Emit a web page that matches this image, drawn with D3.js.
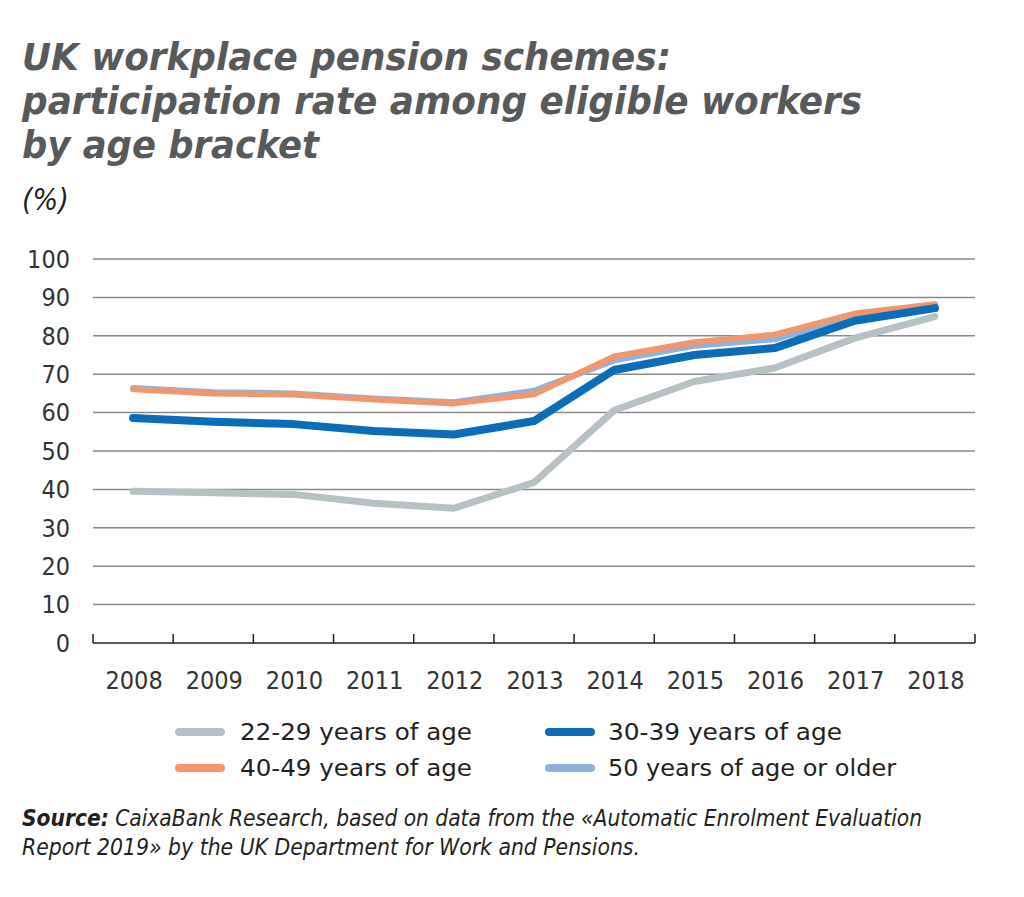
<!DOCTYPE html>
<html><head><meta charset="utf-8">
<script src="https://cdn.jsdelivr.net/npm/d3@7"></script>
<style>
body{margin:0;background:#fff;}
svg{display:block;}
</style></head>
<body>
<svg id="c" width="1024" height="897"></svg>
<script>
const years = [2008,2009,2010,2011,2012,2013,2014,2015,2016,2017,2018];
const yTicks = [0,10,20,30,40,50,60,70,80,90,100];
const seriesNames = ["22-29 years of age","30-39 years of age","40-49 years of age","50 years of age or older"];
const age22_29 = [39.5,39.1,38.7,36.4,35.1,41.8,60.6,68.1,71.6,79.4,85.0];
const age30_39 = [58.6,57.6,57.0,55.2,54.3,57.8,71.1,75.0,76.8,83.9,87.2];
const age40_49 = [66.1,65.0,64.7,63.4,62.4,64.8,74.6,78.3,80.3,85.8,88.2];
const age50plus = [66.4,65.3,65.0,63.7,62.7,65.7,73.6,77.4,79.1,85.2,87.9];

(function(){
const colors = {"22-29 years of age":"#b7c1c3","30-39 years of age":"#0b6db7","40-49 years of age":"#f0976e","50 years of age or older":"#8fb1dd"};
const widths = {"22-29 years of age":7,"30-39 years of age":8,"40-49 years of age":6,"50 years of age or older":6};
const dataMap = {"22-29 years of age":age22_29,"30-39 years of age":age30_39,"40-49 years of age":age40_49,"50 years of age or older":age50plus};
const drawOrder = ["22-29 years of age","50 years of age or older","40-49 years of age","30-39 years of age"];

const svg = d3.select("#c");
const cond = "'Liberation Sans Narrow','DejaVu Sans Condensed','Open Sans',sans-serif";

const titleLines = ["UK workplace pension schemes:","participation rate among eligible workers","by age bracket"];
const titleW = [649, 840, 297];
const titleY = [70, 114, 158];
titleLines.forEach((t,i)=>{
  svg.append("text").attr("x",22).attr("y",titleY[i]).text(t)
    .attr("font-family",cond).attr("font-weight","bold").attr("font-style","italic")
    .attr("font-size",37).attr("fill","#58595b")
    .attr("textLength",titleW[i]).attr("lengthAdjust","spacingAndGlyphs");
});
svg.append("text").attr("x",22).attr("y",210).text("(%)")
  .attr("font-family",cond).attr("font-style","italic").attr("font-size",30).attr("fill","#231f20");

const L=93, R=975, T=259, B=643;
const x = d3.scaleBand().domain(years).range([L,R]);
const y = d3.scaleLinear().domain([0,100]).range([B,T]);

svg.append("g").selectAll("line").data(yTicks.filter(d=>d>0)).join("line")
  .attr("x1",L).attr("x2",R).attr("y1",d=>y(d)).attr("y2",d=>y(d))
  .attr("stroke","#8a8a8a").attr("stroke-width",1.5);

svg.append("g").selectAll("text").data(yTicks).join("text")
  .attr("x",70).attr("y",d=>y(d)).attr("dy","0.35em").attr("text-anchor","end")
  .text(d=>d).attr("font-family",cond).attr("font-size",25).attr("fill","#333");

const xAxisG = svg.append("g").attr("transform",`translate(0,${B})`);
xAxisG.append("line").attr("x1",L).attr("x2",R).attr("stroke","#231f20").attr("stroke-width",1.5);
const tickPos = years.map(d=>x(d)).concat([R]);
xAxisG.selectAll("line.t").data(tickPos).join("line").attr("class","t")
  .attr("x1",d=>d).attr("x2",d=>d).attr("y1",0).attr("y2",-9).attr("stroke","#231f20").attr("stroke-width",1.5);
xAxisG.selectAll("text").data(years).join("text")
  .attr("x",d=>x(d)+x.bandwidth()/2+1).attr("y",46).attr("text-anchor","middle")
  .text(d=>d).attr("font-family",cond).attr("font-size",25).attr("fill","#333");

const line = d3.line().x((d,i)=>x(years[i])+x.bandwidth()/2).y(d=>y(d));
drawOrder.forEach(name=>{
  svg.append("path").datum(dataMap[name]).attr("d",line)
    .attr("fill","none").attr("stroke",colors[name]).attr("stroke-width",widths[name])
    .attr("stroke-linejoin","round").attr("stroke-linecap","round");
});

const legPos = [[175,732],[545,732],[175,768],[545,768]];
const legW = [232,234,232,288];
const legTx = [240,608,240,608];
seriesNames.forEach((name,i)=>{
  const [lx,ly]=legPos[i];
  svg.append("line").attr("x1",lx+4).attr("x2",lx+46).attr("y1",ly).attr("y2",ly)
    .attr("stroke",colors[name]).attr("stroke-width",8).attr("stroke-linecap","round");
  svg.append("text").attr("x",legTx[i]).attr("y",ly).attr("dy","0.35em").text(name)
    .attr("font-family",cond).attr("font-size",23).attr("fill","#231f20")
    .attr("textLength",legW[i]).attr("lengthAdjust","spacingAndGlyphs");
});

const src = svg.append("text").attr("x",22).attr("y",826)
  .attr("font-family",cond).attr("font-style","italic").attr("font-size",23).attr("fill","#231f20")
  .attr("textLength",900).attr("lengthAdjust","spacingAndGlyphs");
src.append("tspan").attr("font-weight","bold").text("Source:");
src.append("tspan").text(" CaixaBank Research, based on data from the «Automatic Enrolment Evaluation");
svg.append("text").attr("x",22).attr("y",855).text("Report 2019» by the UK Department for Work and Pensions.")
  .attr("font-family",cond).attr("font-style","italic").attr("font-size",23).attr("fill","#231f20")
  .attr("textLength",618).attr("lengthAdjust","spacingAndGlyphs");
})();
</script>
</body></html>
